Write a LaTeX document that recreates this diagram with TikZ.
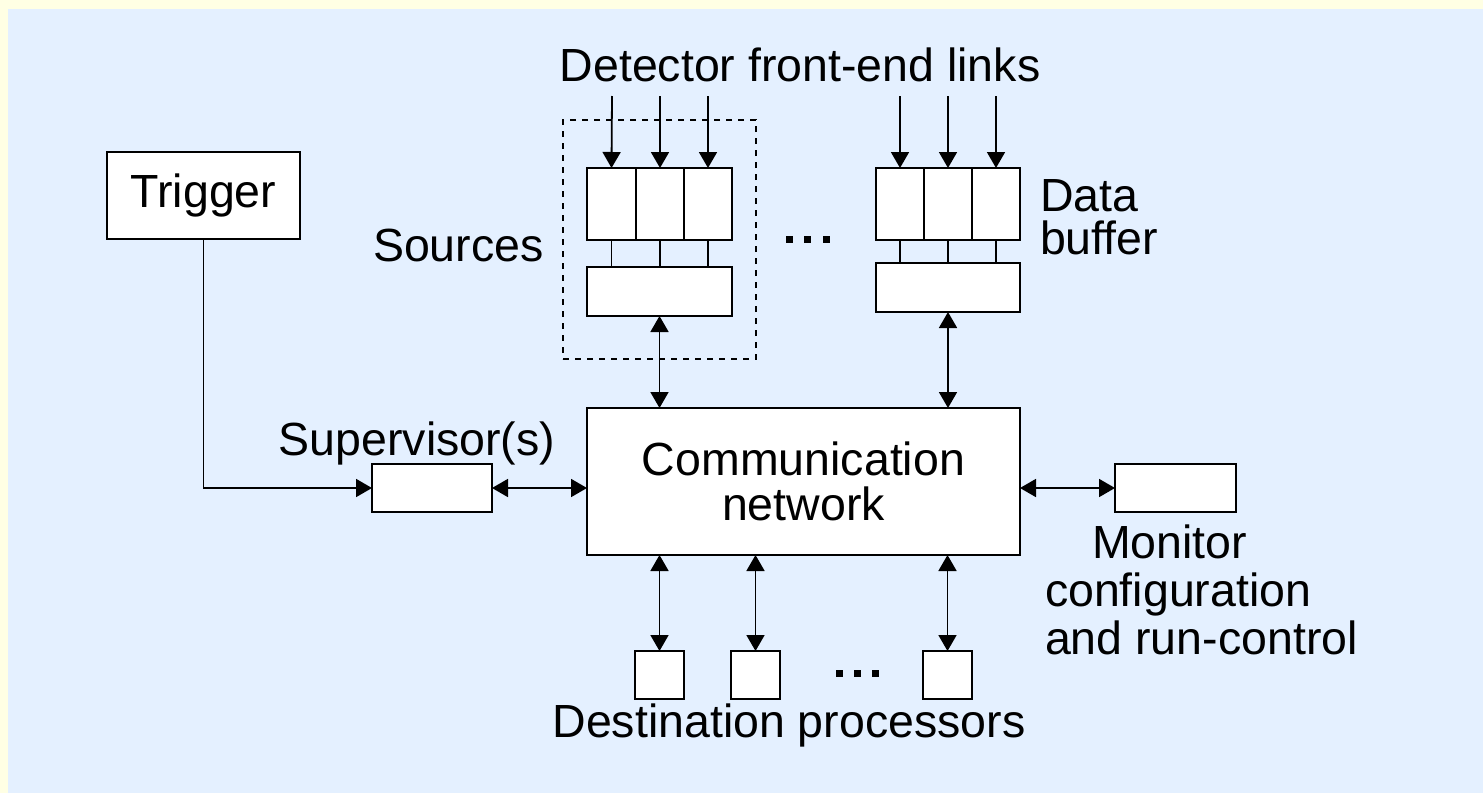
\documentclass[tikz,border=0pt]{standalone}
\usepackage{fontspec}
\setmainfont{Liberation Sans}
\usetikzlibrary{arrows.meta}
\definecolor{bgyellow}{HTML}{FFFFE4}
\definecolor{bgblue}{HTML}{E4F0FF}
\tikzset{
  box/.style={draw=black, fill=white, line width=1pt, inner sep=0pt, outer sep=0pt},
  lbl/.style={inner sep=0pt, outer sep=0pt, font=\fontsize{23.25pt}{24pt}\selectfont},
  conn/.style={line width=0.9pt, draw=black},
  tip/.style={-{Triangle[length=8pt,width=9pt]}},
  dtip/.style={{Triangle[length=8pt,width=9pt]}-{Triangle[length=8pt,width=9pt]}},
  dashbox/.style={draw=black, line width=0.75pt, dash pattern=on 3pt off 3pt},
  dotsq/.style={fill=black, inner sep=0pt, minimum size=3.5pt},
}
\newcommand\bx[6][]{\node[box,#1,minimum width={(#5-#3)*0.5pt},minimum height={(#6-#4)*0.5pt}] (#2) at ({(#3+#5)/2},{(#4+#6)/2}) {};}
\begin{document}
\begin{tikzpicture}[x=0.5pt,y=-0.5pt]
\useasboundingbox (0,0) rectangle (1483,793);
\fill[bgyellow] (0,0) rectangle (1483,793);
\fill[bgblue] (8,9) rectangle (1483,793);

% Trigger
\node[box,lbl,minimum width=96.5pt,minimum height=43.5pt] (trig) at (203.5,195.5) {Trigger};
% Supervisor
\bx{sup}{372}{464}{492}{512}
\node[lbl,anchor=base] (suplbl) at (417,455) {Supervisor(s)};
% Communication network
\node[box,lbl,align=center,minimum width=216.5pt,minimum height=73.5pt,font=\fontsize{23.25pt}{22.5pt}\selectfont] (comm) at (803.5,481.5) {Communication\\network};
% Monitor
\bx{mon}{1115}{464}{1236}{512}
\node[lbl,anchor=north west,align=left] (monlbl) at (1045,525) {\hspace*{23.5pt}Monitor\\configuration\\and run-control};

% Source group 1
\bx{ca1}{587}{168}{636}{240}
\bx{ca2}{636}{168}{684}{240}
\bx{ca3}{684}{168}{732}{240}
\bx{la}{587}{267}{732}{316}
% Source group 2
\bx{cb1}{876}{168}{924}{240}
\bx{cb2}{924}{168}{972}{240}
\bx{cb3}{972}{168}{1020}{240}
\bx{lb}{876}{263}{1020}{312}

\node[dashbox,inner sep=0pt,minimum width=96.5pt,minimum height=119.5pt] (grp) at (659.5,239.5) {};

\node[lbl,anchor=base] (det) at (800,81) {Detector front-end links};
\node[lbl,anchor=base west] (src) at (373,261) {Sources};
\node[lbl,anchor=base west,align=left,font=\fontsize{23.25pt}{21.5pt}\selectfont] (dbuf) at (1040,254) {Data\\buffer};

% input link free ends
\coordinate (ta1) at (612,96);
\coordinate (ta2) at (660,96);
\coordinate (ta3) at (708,96);
\coordinate (tb1) at (900,96);
\coordinate (tb2) at (948,96);
\coordinate (tb3) at (996,96);
\foreach \i in {1,2,3}{
  \draw[conn,tip] (ta\i) -- (ca\i.north);
  \draw[conn,tip] (tb\i) -- (cb\i.north);
  \draw[conn] (ca\i.south) -- (ca\i.south |- la.north);
  \draw[conn] (cb\i.south) -- (cb\i.south |- lb.north);
}
\draw[conn,dtip] (la.south) -- (la.south |- comm.north);
\draw[conn,dtip] (lb.south) -- (lb.south |- comm.north);

% dots between groups
\node[dotsq] (d1) at (789,239) {};
\node[dotsq] (d2) at (807.5,239) {};
\node[dotsq] (d3) at (826,239) {};

% trigger to supervisor
\draw[conn,tip] (trig.south) |- (sup.west);
\draw[conn,dtip] (sup.east) -- (sup.east -| comm.west);
\draw[conn,dtip] (comm.east |- mon.west) -- (mon.west);

% destination processors
\bx{p1}{635}{651}{684}{699}
\bx{p2}{731}{651}{780}{699}
\bx{p3}{923}{651}{972}{699}
\foreach \i in {1,2,3}{
  \draw[conn,dtip] (comm.south -| p\i.north) -- (p\i.north);
}
\node[dotsq] (e1) at (839,673) {};
\node[dotsq] (e2) at (857,673) {};
\node[dotsq] (e3) at (875,673) {};
\node[lbl,anchor=base] (dest) at (789,737) {Destination processors};
\end{tikzpicture}
\end{document}
